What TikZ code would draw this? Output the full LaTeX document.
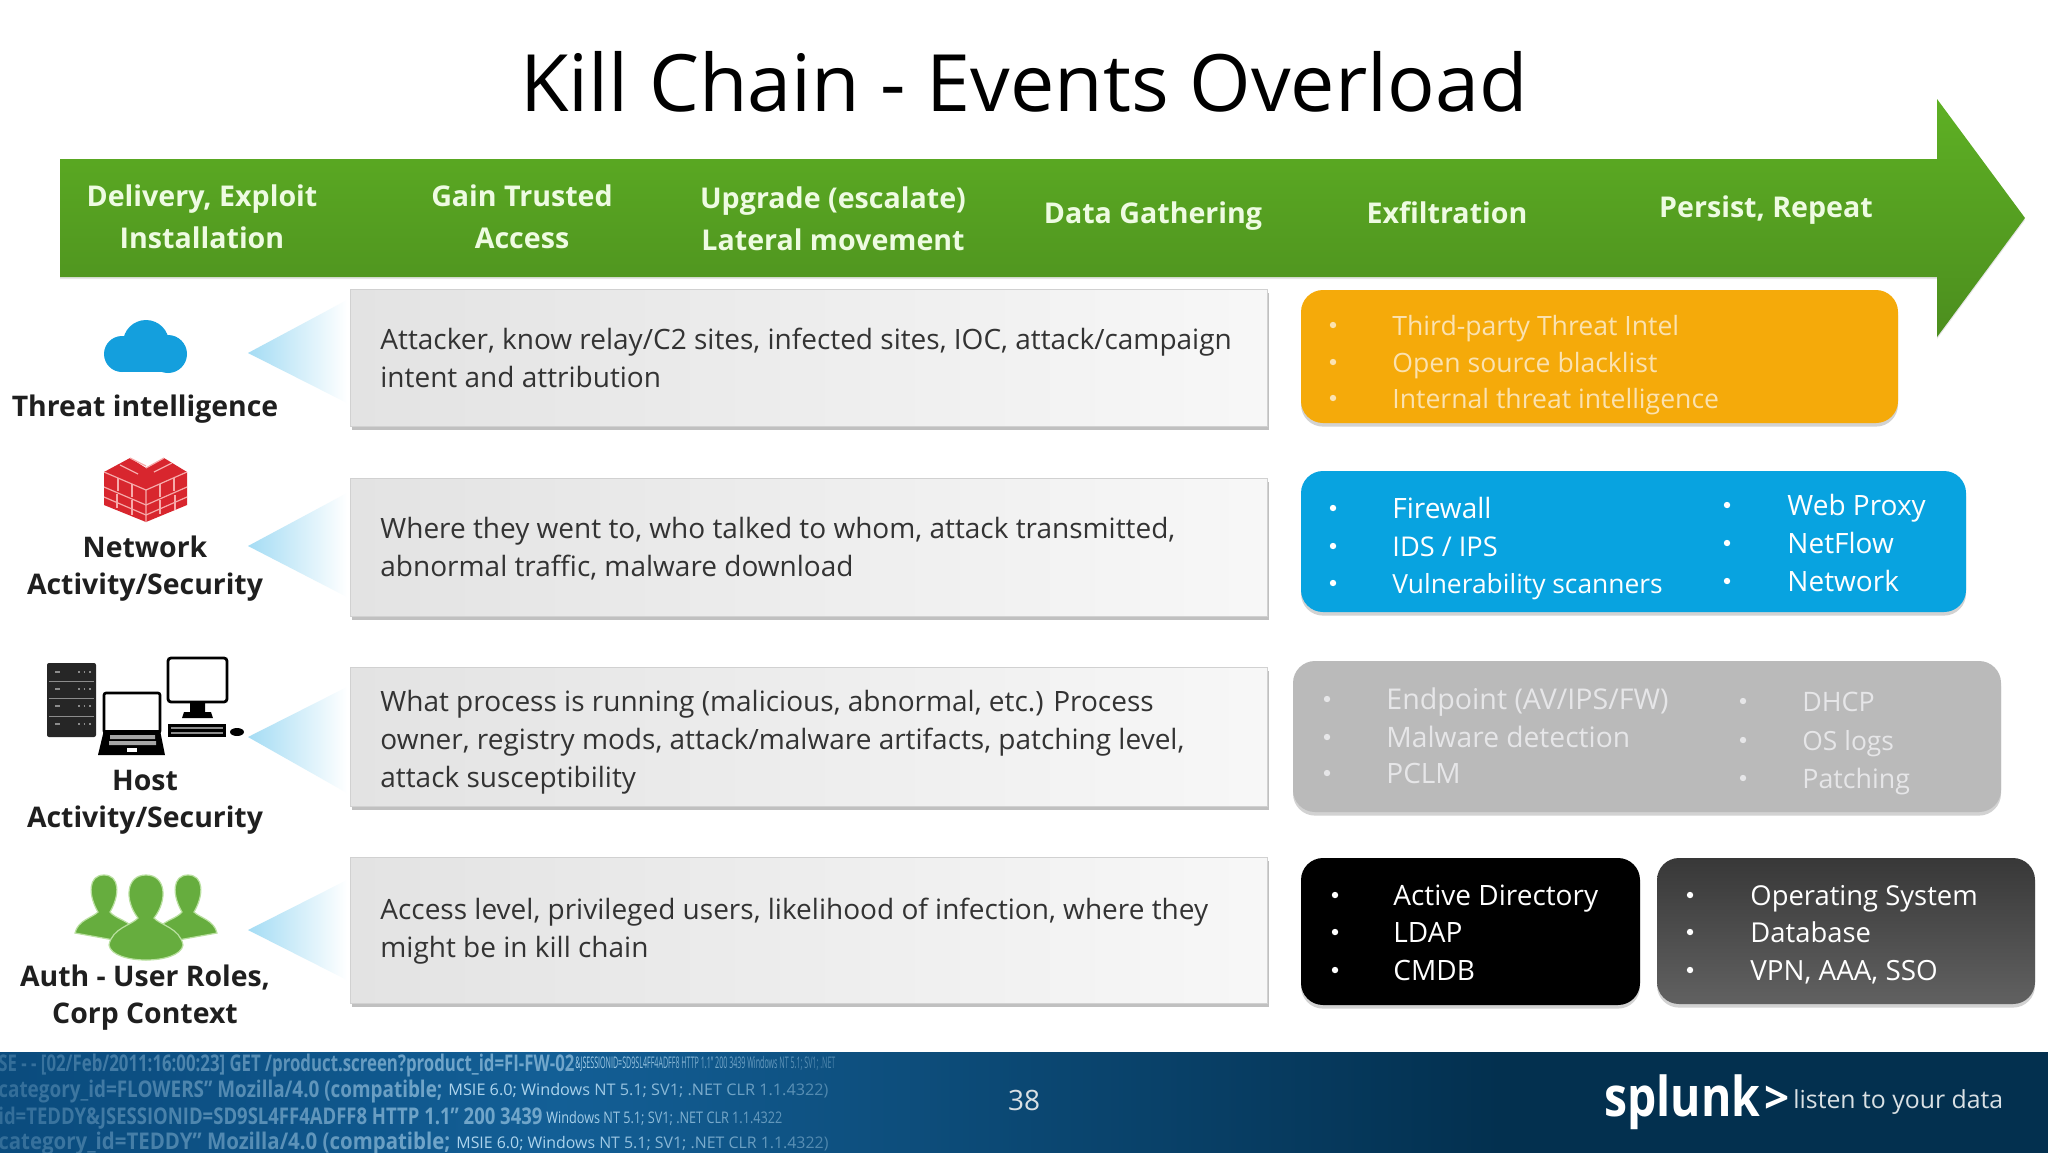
\documentclass[tikz,border=0pt]{standalone}
\usepackage{fontspec}
\usetikzlibrary{shadows,fadings}
\setmainfont{Open Sans}
\definecolor{footL}{HTML}{0B4C7E}
\definecolor{footM}{HTML}{135F96}
\definecolor{footR}{HTML}{03304F}
\definecolor{orangeT}{HTML}{FBE2B0}
\definecolor{grayT}{HTML}{E6E6E8}
\definecolor{hdrT}{HTML}{EEFBE2}
\definecolor{bandT}{HTML}{5EB024}
\definecolor{bandB}{HTML}{4C8E1E}
\definecolor{triC}{HTML}{A4DCF4}
\definecolor{userg}{HTML}{66AD3E}
\definecolor{userl}{HTML}{B9E0A0}
\definecolor{fw}{HTML}{D8262E}
\definecolor{cloudC}{HTML}{149FDD}
\definecolor{logC}{HTML}{BFE2F7}
\newcommand{\logtext}[2]{\resizebox{#1pt}{\height}{#2}}
\tikzset{
  hdr/.style={align=center,text=hdrT,font=\fontsize{14.3}{21}\bfseries\selectfont,inner sep=0pt},
  lbl/.style={align=center,text=black!88,font=\fontsize{14.2}{18.5}\bfseries\selectfont,inner sep=0pt},
  body/.style={anchor=west,align=left,text=black!80,font=\fontsize{14}{19}\selectfont,inner sep=0pt},
  item/.style={anchor=base west,inner sep=0pt},
  graybox/.style={draw=black!18,line width=.5pt,left color=black!11,right color=black!3,drop shadow={shadow xshift=0.8pt,shadow yshift=-2pt,opacity=.35,fill=black!70}},
  colbox/.style={rounded corners=11pt,drop shadow={shadow xshift=0pt,shadow yshift=-1.8pt,opacity=.25,fill=black!70}},
  tri/.style={left color=triC,right color=white},
  logA/.style={anchor=west,inner sep=0pt,text=logC,opacity=.55,font=\fontsize{11.5}{12}\bfseries\selectfont},
  logB/.style={anchor=west,inner sep=0pt,text=logC,opacity=.9,font=\fontsize{8}{10}\selectfont},
  person/.style={fill=userg,draw=userl,line width=.6pt},
}
\begin{document}
\begin{tikzpicture}[x=0.5pt,y=-0.5pt]
\useasboundingbox (0,0) rectangle (2048,1152);
\fill[white] (0,0) rectangle (2048,1152);
% title
\node[inner sep=0pt,text=black,font=\fontsize{39.55}{46}\selectfont] (title) at (1024,82) {Kill Chain - Events Overload};
% band
\path[top color=bandT,bottom color=bandB,drop shadow={shadow xshift=0pt,shadow yshift=-1pt,opacity=.2}]
 (60,159) -- (1937,159) -- (1937,99) -- (2025,218) -- (1937,337) -- (1937,277) -- (60,277) -- cycle;
\node[hdr] (h1) at (202,217) {Delivery, Exploit\\Installation};
\node[hdr] (h2) at (522,217) {Gain Trusted\\Access};
\node[hdr] (h3) at (833,219) {Upgrade (escalate)\\Lateral movement};
\node[hdr] (h4) at (1153,216) {Data Gathering};
\node[hdr] (h5) at (1447,213) {Exfiltration};
\node[hdr] (h6) at (1766,210) {Persist, Repeat};
% triangles
\path[tri] (248,353) -- (347,300) -- (347,403) -- cycle;
\path[tri] (248,546) -- (347,493) -- (347,597) -- cycle;
\path[tri] (248,737) -- (347,687) -- (347,793) -- cycle;
\path[tri] (248,930) -- (347,880) -- (347,980) -- cycle;
% grey boxes
\path[graybox] (350,289) rectangle (1267,426);
\path[graybox] (350,478) rectangle (1267,616);
\path[graybox] (350,667) rectangle (1267,806);
\path[graybox] (350,857) rectangle (1267,1003);
\node[body] (b1) at (380,358) {Attacker, know relay/C2 sites, infected sites, IOC, attack/campaign\\intent and attribution};
\node[body] (b2) at (380,549) {Where they went to, who talked to whom, attack transmitted,\\abnormal traffic, malware download};
\node[body] (b3) at (380,742) {What process is running (malicious, abnormal, etc.) Process\\owner, registry mods, attack/malware artifacts, patching level,\\attack susceptibility};
\node[body] (b4) at (380,931) {Access level, privileged users, likelihood of infection, where they\\might be in kill chain};
% left labels
\node[lbl] (l1) at (145,409) {Threat intelligence};
\node[lbl] (l2) at (145,569) {Network\\Activity/Security};
\node[lbl] (l3) at (145,802) {Host\\Activity/Security};
\node[lbl] (l4) at (145,998) {Auth - User Roles,\\Corp Context};
% cloud
\fill[cloudC] (146,343) circle (23);
\fill[cloudC] (122,354) circle (18);
\fill[cloudC] (168,354) circle (19);
\fill[cloudC] (124,345) rectangle (168,372);
% firewall
\fill[fw] (104,472) -- (130,458) -- (146,468) -- (164,458) -- (187,472) -- (187,505) -- (146,522) -- (104,505) -- cycle;
\begin{scope}[draw={rgb,255:red,246;green,170;blue,170},line width=.6pt]
\draw (104,472) -- (146,490) -- (187,472) (146,490) -- (146,522);
\draw (104,487) -- (146,505) -- (187,487);
\draw (104,497) -- (146,515) (146,515) -- (187,497);
\draw (130,458) -- (146,466) (120,465) -- (138,474) (164,458) -- (146,468) (172,463)--(154,472);
\draw (118,478) -- (118,491) (132,484) -- (132,497) (117,494)--(117,508) (160,484) -- (160,497) (174,478) -- (174,491) (160,500)--(160,514) (175,495)--(175,510) (132,500)--(132,515);
\end{scope}
% server
\fill[black!85,rounded corners=1pt] (47,663) rectangle (96,737);
\draw[black!45,line width=.4pt] (49,681) -- (94,681) (49,698) -- (94,698) (49,716) -- (94,716);
\foreach \yy in {672,689,706,724} {\draw[black!45,line width=.8pt,dotted] (78,\yy) -- (92,\yy); \draw[black!45,line width=.8pt] (55,\yy) -- (60,\yy);}
% laptop
\draw[black,line width=1.3pt,fill=white,rounded corners=1pt] (104,693) rectangle (160,733);
\fill[black] (104,730) -- (160,730) -- (165,755) -- (98,755) -- cycle;
\fill[black!35] (110,735) rectangle (155,739) (109,741) rectangle (156,745);
\fill[white] (127,748) rectangle (137,752);
% monitor
\draw[black,line width=1.4pt,fill=white,rounded corners=1.5pt] (168,658) rectangle (227,702);
\fill[black] (190,702) rectangle (205,712) (184,712) -- (211,712) -- (213,718) -- (182,718) -- cycle;
\fill[black] (168,724) rectangle (226,737);
\draw[black!45,line width=.9pt] (171,728) -- (223,728) (171,733) -- (223,733);
\fill[black] (237,732) ellipse (7 and 4);
% users
\path[person] (75,933) .. controls (78,920) and (92,918) .. (98,912) .. controls (88,895) and (88,875) .. (104,875) .. controls (120,875) and (120,895) .. (110,912) .. controls (115,918) and (125,920) .. (130,925) -- (125,942) -- cycle;
\path[person] (217,933) .. controls (214,920) and (200,918) .. (194,912) .. controls (204,895) and (204,875) .. (188,875) .. controls (172,875) and (172,895) .. (182,912) .. controls (177,918) and (167,920) .. (162,925) -- (167,942) -- cycle;
\path[person] (109,945) .. controls (112,928) and (132,925) .. (138,918) .. controls (124,900) and (126,875) .. (146,875) .. controls (166,875) and (168,900) .. (154,918) .. controls (160,925) and (180,928) .. (183,945) .. controls (180,965) and (112,965) .. (109,945) -- cycle;
% colored boxes
\path[colbox,fill={rgb,255:red,245;green,170;blue,10}] (1301,290) rectangle (1898,423);
\path[colbox,fill={rgb,255:red,8;green,163;blue,224}] (1301,471) rectangle (1966,612);
\path[colbox,fill=black!27] (1293,661) rectangle (2001,812);
\path[colbox,fill=black] (1301,858) rectangle (1640,1005);
\path[colbox,top color=black!78,bottom color=black!62] (1657,858) rectangle (2035,1004);
% items: bullet x / text x / centre y / size / colour / text
\foreach \x/\tx/\yy/\sz/\c/\t in {
 1333/1392/325/13.3/orangeT/{Third-party Threat Intel},1333/1392/362/13.3/orangeT/{Open source blacklist},1333/1392/398/13.3/orangeT/{Internal threat intelligence},
 1333/1392/508/14/white/{Firewall},1333/1392/546/13.6/white/{IDS / IPS},1333/1392/583/13.2/white/{Vulnerability scanners},
 1727/1787/505/14/white/{Web Proxy},1727/1787/543/14/white/{NetFlow},1727/1787/581/14/white/{Network},
 1327/1386/699/14.3/grayT/{Endpoint (AV/IPS/FW)},1327/1386/737/14.1/grayT/{Malware detection},1327/1386/773/14/grayT/{PCLM},
 1743/1802/701/13.4/grayT/{DHCP},1743/1802/740/13.2/grayT/{OS logs},1743/1802/778/13.4/grayT/{Patching},
 1335/1393/895/14/white/{Active Directory},1335/1393/932/14/white/{LDAP},1335/1393/970/14/white/{CMDB},
 1690/1750/895/13.7/white/{Operating System},1690/1750/932/13.7/white/{Database},1690/1750/970/13.9/white/{VPN, AAA, SSO}}
{ \path (\tx,\yy) ++(0,10) node[item,text=\c,font=\fontsize{\sz}{16}\selectfont] {\t}; \fill[\c] (\x,\yy) circle (3.2); }
% footer
\path[left color=footL,right color=footM] (0,1052) rectangle (561,1158);
\path[left color=footM,right color=footR] (560,1052) rectangle (1500,1158);
\fill[footR] (1499,1052) rectangle (2048,1158);
\begin{scope}
\clip (0,1052) rectangle (1000,1152);
\node[logA] (f1) at (-2,1066) {\logtext{288}{SE - - [02/Feb/2011:16:00:23] GET /product.screen?product\_id=FI-FW-02}};
\node[logB] (f1b) at (575,1064) {\logtext{130}{\&JSESSIONID=SD9SL4FF4ADFF8 HTTP 1.1" 200 3439 Windows NT 5.1; SV1; .NET}};
\node[logA] (f2) at (-2,1092) {\logtext{222}{category\_id=FLOWERS" Mozilla/4.0 (compatible;}};
\node[logB] (f2b) at (448,1091) {\logtext{190}{MSIE 6.0; Windows NT 5.1; SV1; .NET CLR 1.1.4322)}};
\node[logA] (f3) at (-2,1118) {\logtext{272}{id=TEDDY\&JSESSIONID=SD9SL4FF4ADFF8 HTTP 1.1" 200 3439}};
\node[logB] (f3b) at (546,1118) {\logtext{118}{Windows NT 5.1; SV1; .NET CLR 1.1.4322}};
\node[logA] (f4) at (-2,1144) {\logtext{226}{category\_id=TEDDY" Mozilla/4.0 (compatible;}};
\node[logB] (f4b) at (456,1144) {\logtext{186}{MSIE 6.0; Windows NT 5.1; SV1; .NET CLR 1.1.4322)}};
\end{scope}
\path[left color=footL,right color=footL!70!footM,path fading=east,opacity=.6] (0,1052) rectangle (420,1152);
\path[left color=footM,right color=footR!48!footM,path fading=west] (560,1052) rectangle (1010,1152);
\node[inner sep=0pt,text=white!85!footR,font=\fontsize{14}{16}\selectfont] (pg) at (1024,1100) {38};
\node[inner sep=0pt,anchor=west,text=white,font=\fontsize{27.5}{30}\bfseries\selectfont] (sp) at (1604,1102) {\logtext{78}{splunk}};
\node[inner sep=0pt,anchor=west,text=white,font=\fontsize{22}{26}\bfseries\selectfont] (gt) at (1764,1100) {>};
\node[inner sep=0pt,anchor=west,text=white!85!footR,font=\fontsize{12.4}{14}\selectfont] (tag) at (1793,1102) {listen to your data};
\end{tikzpicture}
\end{document}
